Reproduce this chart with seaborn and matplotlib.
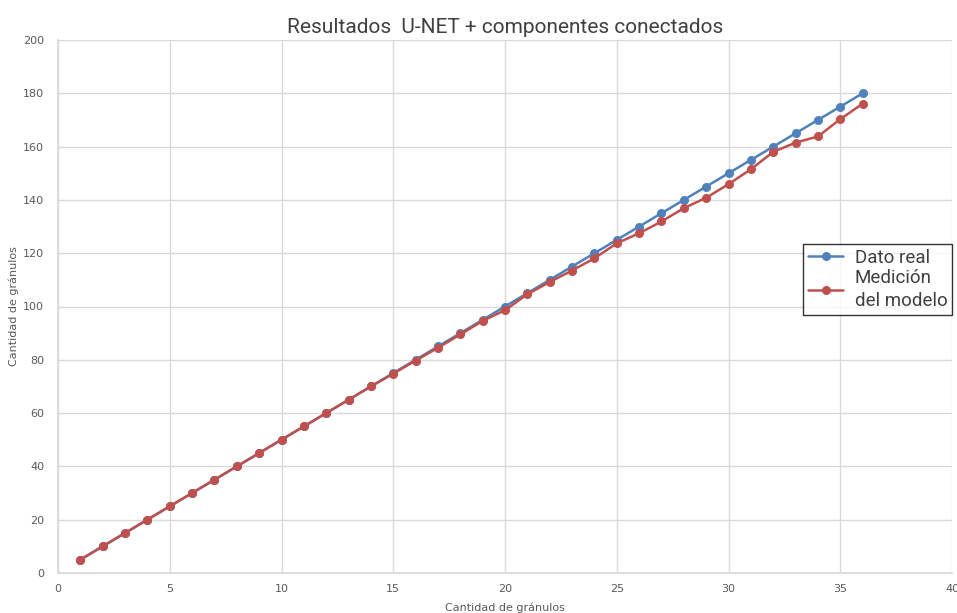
import matplotlib
matplotlib.use("Agg")
import matplotlib.pyplot as plt
import seaborn as sns
import pandas as pd

granulos = list(range(1, 37))
dato_real = [5 * i for i in granulos]
medicion = [5, 10, 15, 20, 25, 30, 35, 40, 45, 50, 55, 60, 65, 70,
            74.8, 79.7, 84.5, 89.5, 94.6, 98.6, 104.6, 109.2, 113.5, 118.1,
            123.7, 127.5, 131.9, 136.9, 140.8, 145.9, 151.5, 158.0, 161.5,
            163.8, 170.3, 176.1]
series_names = ["Dato real", "Medición\ndel modelo"]
colors = ["#4F81BD", "#C0504D"]

df = pd.DataFrame({
    "x": granulos * 2,
    "y": dato_real + medicion,
    "serie": [series_names[0]] * len(granulos) + [series_names[1]] * len(granulos),
})

sns.set_theme(style="white")
plt.rcParams['font.family'] = ['DejaVu Sans']

fig = plt.figure(figsize=(9.57, 6.13), dpi=100)
ax = fig.add_axes([0.0606, 0.0653, 0.9342, 0.8694])

sns.lineplot(data=df, x="x", y="y", hue="serie", palette=colors,
             marker="o", markersize=6.5, markeredgewidth=0, linewidth=1.8,
             dashes=False, ax=ax)

ax.set_xlim(0, 40)
ax.set_ylim(0, 200)
ax.set_xticks(range(0, 41, 5))
ax.set_yticks(range(0, 201, 20))
ax.grid(True, color="#d9d9d9", linewidth=1)
ax.set_axisbelow(True)
for s in ["top", "right"]:
    ax.spines[s].set_visible(False)
for s in ["left", "bottom"]:
    ax.spines[s].set_color("#d9d9d9")
ax.tick_params(axis="both", labelsize=8, colors="#595959", length=0, pad=8)
ax.tick_params(axis="y", pad=10)

ax.set_title("Resultados  U-NET + componentes conectados", fontsize=15,
             color="#404040", pad=5, family=["Roboto", "DejaVu Sans"])
ax.set_xlabel("Cantidad de gránulos", fontsize=8, color="#595959", labelpad=6)
ax.set_ylabel("Cantidad de gránulos", fontsize=8, color="#595959", labelpad=3)

leg = ax.legend(loc="upper right", bbox_to_anchor=(1.0, 0.617),
                prop={"family": ["Roboto", "DejaVu Sans"], "size": 13.5},
                frameon=True, fancybox=False, borderpad=0.25, labelspacing=0.12,
                handlelength=1.9, handletextpad=0.6, borderaxespad=0)
leg.get_frame().set_edgecolor("#000000")
leg.get_frame().set_linewidth(1.0)
for t in leg.get_texts():
    t.set_color("#404040")
    t.set_linespacing(1.35)

fig.savefig("out.png", dpi=100)
